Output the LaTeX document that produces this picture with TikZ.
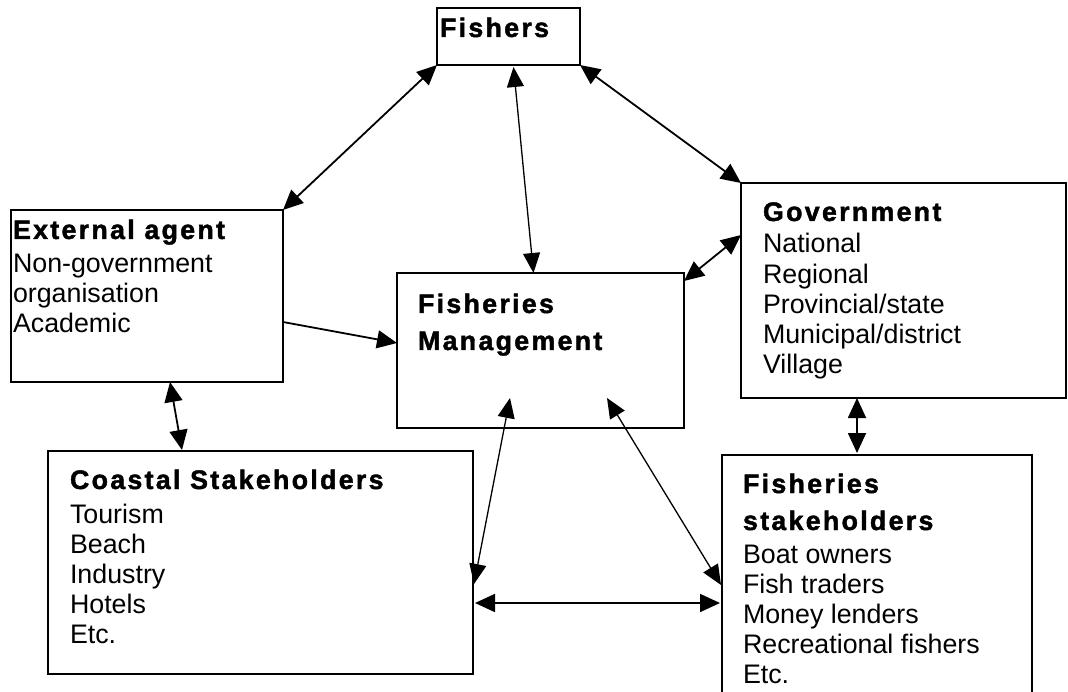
\documentclass[tikz,border=0pt]{standalone}
\usepackage{fontspec}
\setmainfont{Liberation Sans}
\newfontfamily\headfont[LetterSpace=8.5, FakeBold=1.6]{Liberation Sans}
\usetikzlibrary{arrows.meta,calc}

\newcommand\headtext[1]{{\headfont\bfseries #1}}

\tikzset{
  box/.style={draw, line width=1.7pt, anchor=north west, inner sep=0pt, outer sep=0pt},
  txt/.style={anchor=base west, inner sep=0pt, outer sep=0pt,
              font=\fontsize{26.8}{30.2}\selectfont},
  link/.style={line width=1.8pt, {Triangle[length=20pt,width=18pt]}-{Triangle[length=20pt,width=18pt]}},
  thinlink/.style={line width=1.3pt, {Triangle[length=20pt,width=17pt]}-{Triangle[length=20pt,width=17pt]}},
  oneway/.style={line width=1.8pt, -{Triangle[length=20pt,width=18pt]}}
}

\begin{document}
\begin{tikzpicture}[x=1pt,y=-1pt]
  \useasboundingbox (0,0) rectangle (1068,692);
  \clip (0,0) rectangle (1068,692);

  % boxes
  \node[box, minimum width=143pt, minimum height=57pt]  (fishers) at (437,8)   {};
  \node[box, minimum width=272pt, minimum height=172pt] (ext)     at (11,210)  {};
  \node[box, minimum width=287pt, minimum height=155pt] (mgmt)    at (397,273) {};
  \node[box, minimum width=325pt, minimum height=215pt] (gov)     at (741,183) {};
  \node[box, minimum width=425pt, minimum height=223pt] (coast)   at (48,451)  {};
  \node[box, minimum width=310pt, minimum height=260pt] (fstake)  at (722,455) {};

  % box texts
  \node[txt] (fishers-t) at ($(fishers.north west)+(3,29)$) {\headtext{Fishers}};
  \node[txt] (ext-t) at ($(ext.north west)+(2,29)$)
    {\begin{tabular}[t]{@{}l@{}}\headtext{External agent}\\[3pt]
      Non-government\\ organisation\\ Academic\end{tabular}};
  \node[txt] (mgmt-t) at ($(mgmt.north west)+(21,40)$)
    {\begin{tabular}[t]{@{}l@{}}\headtext{Fisheries}\\[6.8pt]
      \headtext{Management}\end{tabular}};
  \node[txt] (gov-t) at ($(gov.north west)+(22,38)$)
    {\begin{tabular}[t]{@{}l@{}}\headtext{Government}\\[1.8pt]
      National\\ Regional\\ Provincial/state\\ Municipal/district\\ Village\end{tabular}};
  \node[txt] (coast-t) at ($(coast.north west)+(22,38)$)
    {\begin{tabular}[t]{@{}l@{}}\headtext{Coastal Stakeholders}\\[3.8pt]
      Tourism\\ Beach\\ Industry\\ Hotels\\ Etc.\end{tabular}};
  \node[txt] (fstake-t) at ($(fstake.north west)+(21,38)$)
    {\begin{tabular}[t]{@{}l@{}}\headtext{Fisheries}\\[6.8pt]
      \headtext{stakeholders}\\[2.8pt]
      Boat owners\\ Fish traders\\ Money lenders\\ Recreational fishers\\ Etc.\end{tabular}};

  % connector end points
  \coordinate (f-mid)   at ($(fishers.south)+(5,2)$);
  \coordinate (m-top)   at ($(mgmt.north)+(-7,0)$);
  \coordinate (m-ne)    at ($(mgmt.north east)+(0,8)$);
  \coordinate (g-w)     at ($(gov.north west)+(0,52)$);
  \coordinate (e-e)     at ($(ext.north east)+(0,112)$);
  \coordinate (m-w)     at ($(mgmt.north west)+(0,70)$);
  \coordinate (e-s)     at ($(ext.south west)+(159,0)$);
  \coordinate (c-n)     at ($(coast.north west)+(134,-1)$);
  \coordinate (g-s)     at ($(gov.south west)+(116,0)$);
  \coordinate (fs-n)    at ($(fstake.north west)+(135,-2)$);
  \coordinate (m-sl)    at ($(mgmt.south west)+(113,-30)$);
  \coordinate (m-sr)    at ($(mgmt.south west)+(210,-30)$);
  \coordinate (c-e1)    at ($(coast.north east)+(1,133)$);
  \coordinate (c-e2)    at ($(coast.north east)+(2,152)$);
  \coordinate (fs-w1)   at ($(fstake.north west)+(-1,130)$);
  \coordinate (fs-w2)   at ($(fstake.north west)+(-2,148)$);

  % connectors
  \draw[link]     (fishers.south west) -- (ext.north east);
  \draw[thinlink] (f-mid) -- (m-top);
  \draw[link]     (fishers.south east) -- (gov.north west);
  \draw[link]     (m-ne) -- (g-w);
  \draw[oneway]   (e-e) -- (m-w);
  \draw[link]     (e-s) -- (c-n);
  \draw[link]     (g-s) -- (fs-n);
  \draw[thinlink] (m-sl) -- (c-e1);
  \draw[thinlink] (m-sr) -- (fs-w1);
  \draw[link]     (c-e2) -- (fs-w2);
\end{tikzpicture}
\end{document}
